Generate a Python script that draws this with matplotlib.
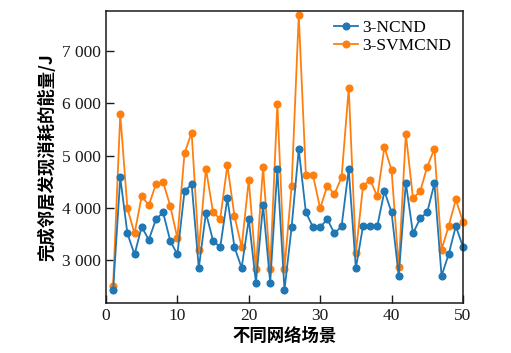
import matplotlib
matplotlib.use("Agg")
import matplotlib.pyplot as plt
from matplotlib.ticker import FuncFormatter

scenes = list(range(1, 51))
ncnd = [2425, 4584, 3511, 3109, 3638, 3389, 3785, 3913, 3370, 3109,
        4316, 4456, 2847, 3907, 3370, 3249, 4182, 3249, 2853, 3785,
        2572, 4054, 2572, 4738, 2431, 3632, 5120, 3913, 3632, 3632,
        3785, 3511, 3651, 4738, 2847, 3651, 3651, 3651, 4322, 3913,
        2700, 4482, 3511, 3799, 3920, 4469, 2700, 3115, 3651, 3256]
svmcnd = [2515, 5797, 3990, 3511, 4220, 4054, 4456, 4494, 4041, 3421,
          5050, 5439, 3204, 4750, 3913, 3792, 4815, 3843, 3249, 4539,
          2840, 4782, 2840, 5989, 2840, 4418, 7686, 4622, 4622, 3990,
          4424, 4264, 4590, 6295, 3140, 4418, 4539, 4220, 5165, 4724,
          2872, 5414, 4188, 4316, 4789, 5133, 3204, 3651, 4163, 3734]
labels = ["3-NCND", "3-SVMCND"]
xlabel = "不同网络场景"
ylabel = "完成邻居发现消耗的能量/J"

fig = plt.figure(figsize=(5.11, 3.53), dpi=100)
ax = fig.add_axes([0.2074, 0.1416, 0.6986, 0.8272])

ax.plot(scenes, ncnd, color="#1f77b4", marker="o", markersize=4.8, linewidth=1.3,
        label=labels[0], clip_on=False, zorder=3)
ax.plot(scenes, svmcnd, color="#ff7f0e", marker="o", markersize=4.8, linewidth=1.3,
        label=labels[1], clip_on=False, zorder=2)

ax.set_xlim(0, 50)
ax.set_ylim(2180, 7770)
ax.set_xticks([0, 10, 20, 30, 40, 50])
ax.set_yticks([3000, 4000, 5000, 6000, 7000])
ax.yaxis.set_major_formatter(FuncFormatter(lambda v, p: f"{int(v)//1000} {int(v)%1000:03d}"))
ax.tick_params(direction="in", length=6, width=1, labelsize=12.5, colors="#1a1a1a")
for lab in ax.get_xticklabels() + ax.get_yticklabels():
    lab.set_fontfamily("Liberation Serif")
for s in ax.spines.values():
    s.set_visible(True)
    s.set_linewidth(1.1)
    s.set_color("#1a1a1a")
    s.set_zorder(5)

cjk = ["Noto Sans CJK SC", "DejaVu Sans"]
ax.set_xlabel(xlabel, family=cjk, fontsize=12.5, fontweight="bold", labelpad=2)
ax.set_ylabel(ylabel, family=cjk, fontsize=12.5, fontweight="bold", labelpad=4)

leg = ax.legend(loc="upper right", frameon=False, prop={"family": "Liberation Serif", "size": 12.5},
                handlelength=1.4, handletextpad=0.2, borderaxespad=0.1, labelspacing=0.1,
                bbox_to_anchor=(0.99, 1.0))

fig.savefig("out.png", dpi=100)
